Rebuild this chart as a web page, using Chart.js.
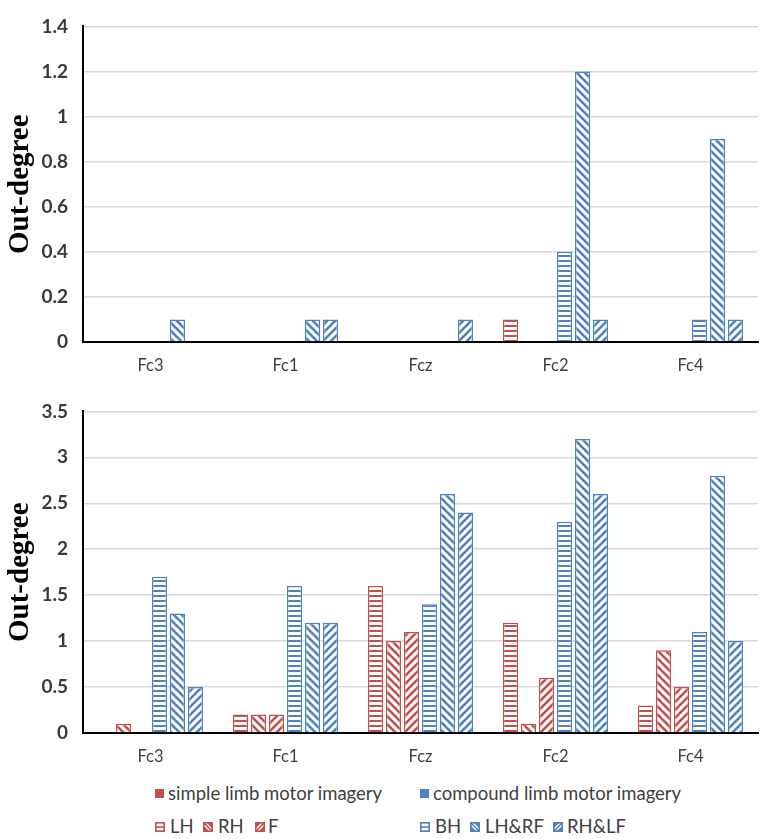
<!DOCTYPE html>
<html><head><meta charset="utf-8">
<script src="https://cdn.jsdelivr.net/npm/chart.js@4.4.0/dist/chart.umd.min.js"></script>
<style>
html,body{margin:0;padding:0;background:#fff;width:763px;height:839px;overflow:hidden;position:relative;font-family:Lato,'Open Sans',sans-serif;}
#c1{position:absolute;left:0;top:0;}
#c2{position:absolute;left:0;top:385px;}
.lg{position:absolute;font-size:18.5px;color:#404040;line-height:20px;white-space:nowrap;}
.sw{position:absolute;}
</style></head>
<body>
<canvas id="c1" width="763" height="385"></canvas>
<canvas id="c2" width="763" height="390"></canvas>
<div id="legend"></div>
<script>
// ---- data ----
const categories = ['Fc3', 'Fc1', 'Fcz', 'Fc2', 'Fc4'];
const seriesNames = ['LH', 'RH', 'F', 'BH', 'LH&RF', 'RH&LF'];
const groupNames = ['simple limb motor imagery', 'compound limb motor imagery'];

// upper panel
const topLH   = [0, 0, 0, 0.1, 0];
const topRH   = [0, 0, 0, 0, 0];
const topF    = [0, 0, 0, 0, 0];
const topBH   = [0, 0, 0, 0.4, 0.1];
const topLHRF = [0.1, 0.1, 0, 1.2, 0.9];
const topRHLF = [0, 0.1, 0.1, 0.1, 0.1];
const topTickLabels = ['0', '0.2', '0.4', '0.6', '0.8', '1', '1.2', '1.4'];

// lower panel
const botLH   = [0, 0.2, 1.6, 1.2, 0.3];
const botRH   = [0.1, 0.2, 1.0, 0.1, 0.9];
const botF    = [0, 0.2, 1.1, 0.6, 0.5];
const botBH   = [1.7, 1.6, 1.4, 2.3, 1.1];
const botLHRF = [1.3, 1.2, 2.6, 3.2, 2.8];
const botRHLF = [0.5, 1.2, 2.4, 2.6, 1.0];
const botTickLabels = ['0', '0.5', '1', '1.5', '2', '2.5', '3', '3.5'];

// ---- styling ----
const RED = '#c0504d', BLUE = '#4f81bd';
const seriesColor = [RED, RED, RED, BLUE, BLUE, BLUE];
const seriesKind = ['h', 'b', 'f', 'h', 'b', 'f'];

function makeTile(kind, color) {
  const s = kind === 'h' ? 5 : 8;
  const c = document.createElement('canvas');
  c.width = s; c.height = s;
  const x = c.getContext('2d');
  x.fillStyle = '#fff'; x.fillRect(0, 0, s, s);
  x.fillStyle = color; x.strokeStyle = color;
  if (kind === 'h') {
    x.fillRect(0, 0, s, 2);
  } else {
    x.lineWidth = 2.6;
    x.beginPath();
    if (kind === 'b') {
      x.moveTo(-2, -2); x.lineTo(s + 2, s + 2);
      x.moveTo(-2, s - 2); x.lineTo(2, s + 2);
      x.moveTo(s - 2, -2); x.lineTo(s + 2, 2);
    } else {
      x.moveTo(-2, s + 2); x.lineTo(s + 2, -2);
      x.moveTo(-2, 2); x.lineTo(2, -2);
      x.moveTo(s - 2, s + 2); x.lineTo(s + 2, s - 2);
    }
    x.stroke();
  }
  return c;
}
const helperCtx = document.createElement('canvas').getContext('2d');
const patterns = seriesKind.map((k, i) => helperCtx.createPattern(makeTile(k, seriesColor[i]), 'repeat'));

function buildDatasets(arrs) {
  return arrs.map((d, i) => ({
    label: seriesNames[i],
    data: d,
    backgroundColor: patterns[i],
    borderColor: seriesColor[i],
    borderWidth: 1.5,
    categoryPercentage: 0.8,
    barPercentage: 0.84
  }));
}

function makeOptions(max, step, tickLabels, topPad, xHeight) {
  return {
    responsive: false,
    animation: false,
    devicePixelRatio: 1,
    layout: { padding: { top: topPad, right: 5, left: 0, bottom: 0 } },
    plugins: { legend: { display: false }, tooltip: { enabled: false } },
    scales: {
      x: {
        grid: { display: true, drawOnChartArea: false, drawTicks: false },
        border: { display: true, color: '#000', width: 2 },
        ticks: { font: { family: 'Lato', size: 16.5 }, color: '#404040', padding: 14 },
        afterFit(s) { s.height = xHeight; }
      },
      y: {
        min: 0, max: max,
        ticks: {
          stepSize: step,
          font: { family: 'Lato', size: 19, weight: 'bold' },
          color: '#3a3a3a',
          padding: 15,
          callback: (v, i) => tickLabels[i]
        },
        grid: { color: '#d9d9d9', lineWidth: 1.5, drawTicks: false },
        border: { display: true, color: '#000', width: 2 },
        title: {
          display: true, text: 'Out-degree',
          font: { family: 'Liberation Serif', size: 29, weight: 'bold' },
          color: '#000', padding: { top: 3, bottom: 0 }
        },
        afterFit(s) { s.width = 83; }
      }
    }
  };
}

new Chart(document.getElementById('c1'), {
  type: 'bar',
  data: { labels: categories, datasets: buildDatasets([topLH, topRH, topF, topBH, topLHRF, topRHLF]) },
  options: makeOptions(1.4, 0.2, topTickLabels, 12, 43)
});
new Chart(document.getElementById('c2'), {
  type: 'bar',
  data: { labels: categories, datasets: buildDatasets([botLH, botRH, botF, botBH, botLHRF, botRHLF]) },
  options: makeOptions(3.5, 0.5, botTickLabels, 18, 42)
});

// ---- legend ----
const legend = document.getElementById('legend');
function addText(txt, x, y) {
  const d = document.createElement('div');
  d.className = 'lg'; d.textContent = txt;
  d.style.left = x + 'px'; d.style.top = (y - 10) + 'px';
  legend.appendChild(d);
}
function addSolid(color, x, y) {
  const d = document.createElement('div');
  d.className = 'sw';
  d.style.cssText += `left:${x}px;top:${y - 4}px;width:9px;height:9px;background:${color};`;
  legend.appendChild(d);
}
function addPatternSwatch(i, x, y) {
  const c = document.createElement('canvas');
  c.width = 10; c.height = 10; c.className = 'sw';
  c.style.left = x + 'px'; c.style.top = (y - 4) + 'px';
  const g = c.getContext('2d');
  g.fillStyle = '#fff'; g.fillRect(0, 0, 10, 10);
  g.strokeStyle = seriesColor[i]; g.fillStyle = seriesColor[i];
  g.lineWidth = 1.6;
  if (seriesKind[i] === 'h') {
    g.fillRect(1, 4.2, 8, 1.6);
  } else if (seriesKind[i] === 'b') {
    g.beginPath(); g.moveTo(1, 1); g.lineTo(9, 9); g.stroke();
    g.beginPath(); g.moveTo(1, 4); g.lineTo(1, 9); g.lineTo(6, 9); g.fill();
    g.beginPath(); g.moveTo(4, 1); g.lineTo(9, 1); g.lineTo(9, 6); g.fill();
  } else {
    g.beginPath(); g.moveTo(1, 9); g.lineTo(9, 1); g.stroke();
    g.beginPath(); g.moveTo(1, 1); g.lineTo(6, 1); g.lineTo(1, 6); g.fill();
    g.beginPath(); g.moveTo(9, 4); g.lineTo(9, 9); g.lineTo(4, 9); g.fill();
  }
  g.strokeRect(0.8, 0.8, 8.4, 8.4);
  legend.appendChild(c);
}
addSolid(RED, 155, 793); addText(groupNames[0], 168, 793);
addSolid(BLUE, 420, 793); addText(groupNames[1], 433, 793);
const swX = [155, 203, 255, 420, 470, 553];
const txX = [170, 218, 268, 435, 485, 567];
for (let i = 0; i < 6; i++) { addPatternSwatch(i, swX[i], 826); addText(seriesNames[i], txX[i], 826); }
</script>
</body></html>
